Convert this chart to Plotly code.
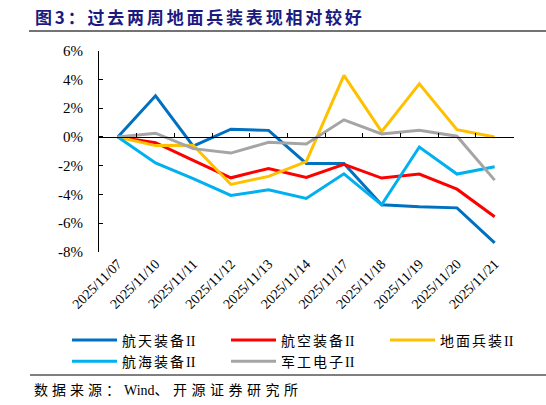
"""
Recreate chart: 过去两周地面兵装表现相对较好
"""
import plotly.graph_objects as go

# data (percent)
dates = ["2025/11/07", "2025/11/10", "2025/11/11", "2025/11/12", "2025/11/13", "2025/11/14",
         "2025/11/17", "2025/11/18", "2025/11/19", "2025/11/20", "2025/11/21"]
aerospace = [0, 2.86, -0.63, 0.54, 0.46, -1.84, -1.84, -4.72, -4.86, -4.93, -7.37]
aviation = [0, -0.40, -1.63, -2.84, -2.19, -2.81, -1.91, -2.86, -2.58, -3.63, -5.55]
ground_arms = [0, -0.60, -0.58, -3.30, -2.74, -1.72, 4.28, 0.37, 3.69, 0.51, 0.00]
marine = [0, -1.81, -2.90, -4.07, -3.67, -4.28, -2.56, -4.72, -0.70, -2.58, -2.07]
electronics = [0, 0.26, -0.81, -1.12, -0.37, -0.49, 1.19, 0.21, 0.46, 0.05, -3.00]

names = ["航天装备II", "航空装备II", "地面兵装II", "航海装备II", "军工电子II"]
colors = ["#0070C0", "#FF0000", "#FFC000", "#00B0F0", "#A5A5A5"]

y_ticks = [-8, -6, -4, -2, 0, 2, 4, 6]
y_tick_text = ["-8%", "-6%", "-4%", "-2%", "0%", "2%", "4%", "6%"]

FONT = "Liberation Serif, Noto Sans CJK SC"
W, H = 546, 405


def spaced(text, px):
    return f'<span style="letter-spacing:{px}px">{text}</span>'


def main():
    fig = go.Figure()
    for name, ys, col in zip(names, [aerospace, aviation, ground_arms, marine, electronics], colors):
        fig.add_trace(go.Scatter(x=dates, y=ys, mode="lines",
                                 name=spaced(name[:-2], 2) + name[-2:],
                                 line=dict(color=col, width=3)))

    # boundary tick marks on the zero line
    fig.add_trace(go.Scatter(x=[-0.5, 10.5], y=[None, None], xaxis="x2", showlegend=False,
                             hoverinfo="skip"))

    # plot area in pixels -> figure fractions (margins are zero so the legend doesn't push)
    x_dom = [99 / W, 513.5 / W]
    y_dom = [1 - 252 / H, 1 - 50.7 / H]
    zero_pos = y_dom[0] + (8 / 14) * (y_dom[1] - y_dom[0])

    fig.update_layout(
        width=W, height=H,
        margin=dict(l=0, r=0, t=0, b=0),
        paper_bgcolor="white", plot_bgcolor="white",
        font=dict(family=FONT, color="#000000"),
        showlegend=True,
        legend=dict(orientation="h", x=67 / W, y=1 - 324.5 / H, xanchor="left", yanchor="top",
                    entrywidth=99, font=dict(size=14, family=FONT), itemwidth=45,
                    bgcolor="rgba(0,0,0,0)"),
        xaxis=dict(type="category", categoryarray=dates, range=[-0.5, 10.5], domain=x_dom,
                   showline=False, ticks="", showgrid=False, zeroline=False, automargin=False,
                   tickangle=-45, tickfont=dict(size=14, family=FONT, color="#000")),
        xaxis2=dict(overlaying="x", anchor="free", position=zero_pos, range=[-0.5, 10.5],
                    tickmode="array", tickvals=[i + 0.5 for i in range(len(dates))],
                    ticks="inside", ticklen=4, tickcolor="#000", showline=True,
                    linecolor="#000", linewidth=1, showticklabels=False, showgrid=False,
                    zeroline=False, automargin=False),
        yaxis=dict(range=[-8, 6], domain=y_dom, tickmode="array", tickvals=y_ticks,
                   ticktext=y_tick_text, automargin=False,
                   showline=True, linecolor="#000", linewidth=1, ticks="inside", ticklen=4,
                   tickcolor="#000", showgrid=False, zeroline=False, ticklabelstandoff=12,
                   tickfont=dict(size=15, family=FONT, color="#000")),
    )

    # title, rules and source note
    fig.add_annotation(text=spaced("<b>图3：过去两周地面兵装表现相对较好</b>", 2.8),
                       xref="paper", yref="paper", x=33 / W, y=1 - 16 / H,
                       xanchor="left", yanchor="middle", showarrow=False,
                       font=dict(size=17, family="Noto Sans CJK SC", color="#1a1a80"))
    fig.add_shape(type="line", xref="paper", yref="paper", x0=29 / W, x1=1,
                  y0=1 - 31 / H, y1=1 - 31 / H, line=dict(color="#444444", width=1.5))
    fig.add_shape(type="line", xref="paper", yref="paper", x0=30 / W, x1=1,
                  y0=1 - 375 / H, y1=1 - 375 / H, line=dict(color="#000000", width=1))
    fig.add_annotation(text=spaced("数据来源：", 4) + "Wind" + spaced("、开源证券研究所", 4.5),
                       xref="paper", yref="paper", x=32 / W, y=1 - 390 / H,
                       xanchor="left", yanchor="middle", showarrow=False,
                       font=dict(size=14, family=FONT, color="#000"))

    # drop the default page margin so the figure sits at the window's corner
    fig.write_html("out.html", config={"displayModeBar": False},
                   post_script="document.body.style.margin='0';")


if __name__ == '__main__':
    main()
